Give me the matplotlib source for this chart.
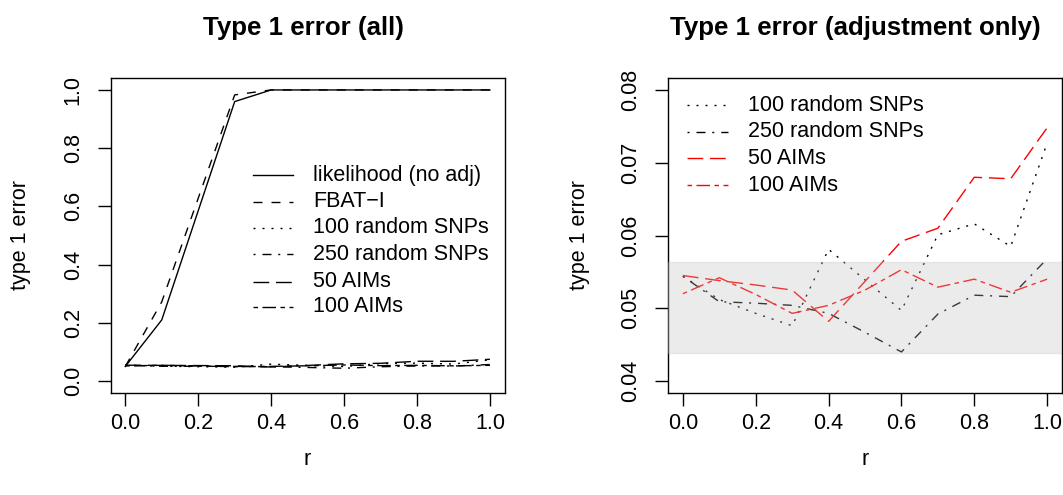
import matplotlib
matplotlib.use("Agg")
import matplotlib.pyplot as plt

plt.rcParams["font.family"] = ["Liberation Sans", "DejaVu Sans"]
plt.rcParams["lines.scale_dashes"] = False

# ---- data ---------------------------------------------------------------
r = [0.0, 0.1, 0.2, 0.3, 0.4, 0.5, 0.6, 0.7, 0.8, 0.9, 1.0]

likelihood_noadj = [0.05, 0.21, 0.585, 0.96, 1.0, 1.0, 1.0, 1.0, 1.0, 1.0, 1.0]
fbat_i = [0.05, 0.272, 0.628, 0.983, 1.0, 1.0, 1.0, 1.0, 1.0, 1.0, 1.0]
random_snps_100 = [0.0544, 0.0512, 0.0493, 0.0476, 0.0581, 0.0539,
                   0.0497, 0.0601, 0.0616, 0.0585, 0.0727]
random_snps_250 = [0.0544, 0.0509, 0.0507, 0.0504, 0.0493, 0.0467,
                   0.0440, 0.0492, 0.0518, 0.0516, 0.0568]
aims_50 = [0.0545, 0.0538, 0.0532, 0.0525, 0.0482, 0.0537,
           0.0592, 0.0610, 0.0680, 0.0678, 0.0748]
aims_100 = [0.0520, 0.0542, 0.0519, 0.0493, 0.0504, 0.0525,
            0.0553, 0.0529, 0.0540, 0.0522, 0.0540]

band_low, band_high = 0.0438, 0.0563

x_ticks = [0.0, 0.2, 0.4, 0.6, 0.8, 1.0]
x_tick_labels = ["0.0", "0.2", "0.4", "0.6", "0.8", "1.0"]
y_ticks_all = [0.0, 0.2, 0.4, 0.6, 0.8, 1.0]
y_tick_labels_all = ["0.0", "0.2", "0.4", "0.6", "0.8", "1.0"]
y_ticks_adj = [0.04, 0.05, 0.06, 0.07, 0.08]
y_tick_labels_adj = ["0.04", "0.05", "0.06", "0.07", "0.08"]

labels_all = ["likelihood (no adj)", "FBAT\u2212I", "100 random SNPs",
              "250 random SNPs", "50 AIMs", "100 AIMs"]
labels_adj = ["100 random SNPs", "250 random SNPs", "50 AIMs", "100 AIMs"]

# ---- line types (R-like) -------------------------------------------------
u = 1.62
LT = {
    "solid": "-",
    "dashed": (0, (4 * u, 4 * u)),
    "dotted": (0, (0.9 * u, 3.1 * u)),
    "dotdash": (0, (0.9 * u, 3.1 * u, 4 * u, 3 * u)),
    "longdash": (0, (7 * u, 3 * u)),
    "twodash": (0, (2 * u, 2 * u, 6 * u, 2 * u)),
}
LW = 1.0
FS = 15.5

fig = plt.figure(figsize=(10.63, 4.95), dpi=100)
W, H = 1063.0, 495.0


def make_axes(x0, x1, y0, y1):
    return fig.add_axes([x0 / W, 1 - y1 / H, (x1 - x0) / W, (y1 - y0) / H])


def style_axes(ax, yticks, ylabels, ylim, title, title_x, ylab_x):
    ax.set_xlim(-0.04, 1.04)
    ax.set_ylim(*ylim)
    ax.set_xticks(x_ticks)
    ax.set_xticklabels(x_tick_labels)
    ax.set_yticks(yticks)
    ax.set_yticklabels(ylabels, rotation=90, va="center")
    ax.tick_params(direction="out", length=9.4, width=1.0, labelsize=FS,
                   color="black")
    ax.tick_params(axis="y", pad=10)
    ax.tick_params(axis="x", pad=5)
    for s in ax.spines.values():
        s.set_linewidth(1.0)
    ax.set_title(title, fontsize=FS * 1.2, fontweight="bold", x=title_x,
                 y=1.134, va="center")
    ax.set_xlabel("r", fontsize=FS, va="center")
    ax.xaxis.set_label_coords(0.5, -0.214)
    ax.set_ylabel("type 1 error", fontsize=FS, va="center")
    ax.yaxis.set_label_coords(ylab_x, 0.5)


def draw_key(ax, entries, x0, x1, xt, ys):
    for (lab, ls, col), y in zip(entries, ys):
        ax.plot([x0, x1], [y, y], transform=ax.transAxes, color=col,
                linestyle=LT[ls], lw=LW, clip_on=False)
        ax.text(xt, y, lab, transform=ax.transAxes, fontsize=FS,
                va="center", ha="left")


# ---- left panel: all methods --------------------------------------------
ax1 = make_axes(110.7, 504.5, 78.3, 392.7)
series_all = [
    (likelihood_noadj, "solid"),
    (fbat_i, "dashed"),
    (random_snps_100, "dotted"),
    (random_snps_250, "dotdash"),
    (aims_50, "longdash"),
    (aims_100, "twodash"),
]
for vals, ls in series_all:
    ax1.plot(r, vals, color="black", linestyle=LT[ls], lw=LW)
style_axes(ax1, y_ticks_all, y_tick_labels_all, (-0.04, 1.04),
           "Type 1 error (all)", 0.49, -0.2303)
draw_key(ax1,
         [(lab, ls, "black") for lab, (_, ls) in zip(labels_all, series_all)],
         0.361, 0.463, 0.514,
         [0.692, 0.607, 0.524, 0.441, 0.353, 0.274])

# ---- right panel: adjustment methods only --------------------------------
ax2 = make_axes(668.3, 1061.7, 78.3, 392.7)
series_adj = [
    (random_snps_100, "dotted", "black"),
    (random_snps_250, "dotdash", "black"),
    (aims_50, "longdash", "#FF0000"),
    (aims_100, "twodash", "#FF0000"),
]
for vals, ls, col in series_adj:
    ax2.plot(r, vals, color=col, linestyle=LT[ls], lw=LW)
ax2.axhspan(band_low, band_high, facecolor=(0.745, 0.745, 0.745, 0.3),
            edgecolor=(0.745, 0.745, 0.745, 0.3), lw=1.0, zorder=3)
style_axes(ax2, y_ticks_adj, y_tick_labels_adj, (0.0384, 0.0816),
           "Type 1 error (adjustment only)", 0.476, -0.2245)
draw_key(ax2,
         [(lab, ls, col) for lab, (_, ls, col) in zip(labels_adj, series_adj)],
         0.0468, 0.152, 0.2026,
         [0.915, 0.830, 0.745, 0.660])

fig.savefig("out.png", dpi=100)
